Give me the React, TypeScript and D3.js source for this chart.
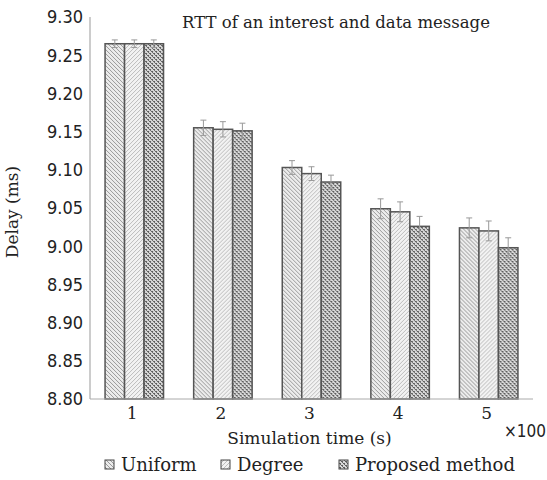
import React from "react";
import * as d3 from "d3";

const categories = ["1", "2", "3", "4", "5"];
const seriesNames = ["Uniform", "Degree", "Proposed method"];
const uniform = [9.265, 9.155, 9.103, 9.049, 9.024];
const degree = [9.265, 9.153, 9.095, 9.045, 9.02];
const proposed = [9.265, 9.151, 9.084, 9.026, 8.998];
const errors = [0.005, 0.01, 0.009, 0.013, 0.013];
const yTicks = [8.8, 8.85, 8.9, 8.95, 9.0, 9.05, 9.1, 9.15, 9.2, 9.25, 9.3];

const series = [uniform, degree, proposed];
const patternIds = ["pUniform", "pDegree", "pProposed"];

const serif = "'DejaVu Serif', serif";
const narrow = "'Liberation Sans Narrow', 'DejaVu Sans Condensed', sans-serif";

export default function App() {
  const width = 547;
  const height = 480;
  const margin = { top: 17, right: 14, bottom: 81, left: 90 };
  const innerW = width - margin.left - margin.right;
  const innerH = height - margin.top - margin.bottom;

  const x0 = d3.scaleBand<string>().domain(categories).range([0, innerW]).paddingInner(0.34).paddingOuter(0.17);
  const x1 = d3.scaleBand<number>().domain([0, 1, 2]).range([0, x0.bandwidth()]);
  const y = d3.scaleLinear().domain([8.8, 9.3]).range([innerH, 0]);

  // legend icon x positions
  const legendX = [105, 221, 339];

  return (
    <svg width={width} height={height} style={{ position: "absolute", left: 0, top: 0 }}>
      <defs>
        <pattern id="pUniform" patternUnits="userSpaceOnUse" width={4} height={4}>
          <rect width={4} height={4} fill="#ececec" />
          <path d="M-1,-1 L5,5 M-1,3 L1,5 M3,-1 L5,1" stroke="#9a9a9a" strokeWidth={1} />
        </pattern>
        <pattern id="pDegree" patternUnits="userSpaceOnUse" width={4} height={4}>
          <rect width={4} height={4} fill="#f2f2f2" />
          <path d="M-1,5 L5,-1 M-1,1 L1,-1 M3,5 L5,3" stroke="#bdbdbd" strokeWidth={1} />
        </pattern>
        <pattern id="pProposed" patternUnits="userSpaceOnUse" width={4} height={4}>
          <rect width={4} height={4} fill="#d8d8d8" />
          <rect x={0} y={0} width={2} height={1} fill="#5e5e5e" />
          <rect x={1} y={1} width={1} height={1} fill="#6a6a6a" />
          <rect x={2} y={2} width={2} height={1} fill="#5e5e5e" />
          <rect x={3} y={3} width={1} height={1} fill="#6a6a6a" />
        </pattern>
      </defs>

      <text x={336} y={28} textAnchor="middle" fontFamily={serif} fontSize={16.5} fill="#222">
        RTT of an interest and data message
      </text>

      <g transform={`translate(${margin.left},${margin.top})`}>
        {categories.map((c, i) => (
          <g key={c} transform={`translate(${x0(c)},0)`}>
            {series.map((s, k) => {
              const bx = x1(k)!;
              const bw = x1.bandwidth();
              const cx = bx + bw / 2;
              return (
                <g key={k}>
                  <rect
                    x={bx}
                    y={y(s[i])}
                    width={bw}
                    height={innerH - y(s[i])}
                    fill={`url(#${patternIds[k]})`}
                    stroke="#555"
                    strokeWidth={1.5}
                  />
                  <g stroke="#999" strokeWidth={1}>
                    <line x1={cx} x2={cx} y1={y(s[i] + errors[i])} y2={y(s[i] - errors[i])} />
                    <line x1={cx - 3} x2={cx + 3} y1={y(s[i] + errors[i])} y2={y(s[i] + errors[i])} />
                    <line x1={cx - 3} x2={cx + 3} y1={y(s[i] - errors[i])} y2={y(s[i] - errors[i])} />
                  </g>
                </g>
              );
            })}
            <text
              x={x0.bandwidth() / 2 - 2}
              y={innerH + 20}
              textAnchor="middle"
              fontFamily={serif}
              fontSize={17}
              fill="#222"
            >
              {c}
            </text>
          </g>
        ))}

        <line x1={0} x2={0} y1={0} y2={innerH} stroke="#999" />
        <line x1={0} x2={innerW} y1={innerH} y2={innerH} stroke="#aaa" />

        {yTicks.map((t) => (
          <text
            key={t}
            x={-7}
            y={y(t)}
            dy="0.35em"
            textAnchor="end"
            fontFamily={narrow}
            fontSize={18}
            fill="#222"
          >
            {t.toFixed(2)}
          </text>
        ))}

        <text
          transform={`translate(-72,${innerH / 2 + 4}) rotate(-90)`}
          textAnchor="middle"
          fontFamily={serif}
          fontSize={17}
          fill="#222"
        >
          Delay (ms)
        </text>

        <text x={innerW / 2 - 2} y={innerH + 45} textAnchor="middle" fontFamily={serif} fontSize={17} fill="#222">
          Simulation time (s)
        </text>
        <text x={innerW + 13} y={innerH + 38} textAnchor="end" fontFamily={narrow} fontSize={17} fill="#222">
          ×100
        </text>
      </g>

      {seriesNames.map((name, k) => (
        <g key={name} transform={`translate(${legendX[k]},471)`}>
          <rect x={0} y={-11} width={9} height={9} fill={`url(#${patternIds[k]})`} stroke="#444" strokeWidth={1} />
          <text x={16} y={0} fontFamily={serif} fontSize={18} fill="#222">
            {name}
          </text>
        </g>
      ))}
    </svg>
  );
}
